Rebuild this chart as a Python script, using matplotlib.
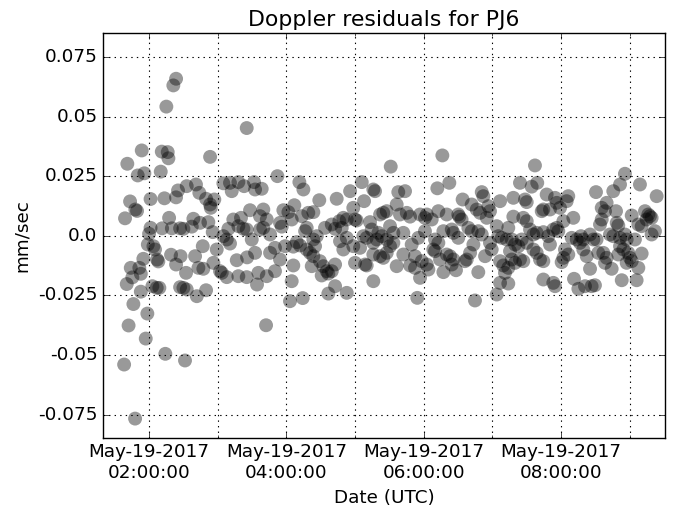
import matplotlib
matplotlib.use("Agg")
import matplotlib.pyplot as plt
import matplotlib.dates as mdates
import matplotlib.ticker as mticker
import pandas as pd
import numpy as np

# time of each sample, minutes after 2017-05-19 00:00 UTC
minutes = [
    98.2, 99.0, 100.5, 101.0, 102.1, 103.4, 104.0, 105.4, 106.3, 107.8,
    108.0, 109.5, 110.1, 111.5, 112.8, 112.8, 113.6, 115.0, 115.9, 117.1,
    118.5, 118.9, 120.0, 121.3, 121.3, 122.9, 123.8, 125.2, 126.7, 127.0,
    128.1, 129.0, 130.2, 131.1, 131.4, 133.4, 134.2, 135.1, 136.3, 136.9,
    137.5, 139.2, 139.9, 141.2, 143.6, 143.6, 143.6, 145.3, 147.1, 147.5,
    147.1, 150.0, 150.0, 151.4, 152.3, 152.9, 152.9, 157.3, 158.7, 160.2,
    161.0, 161.7, 163.1, 163.9, 164.5, 166.9, 167.4, 169.8, 169.8, 171.8,
    173.3, 173.3, 173.9, 176.2, 175.6, 177.0, 179.1, 182.0, 183.5, 184.9,
    184.9, 187.9, 187.9, 189.3, 190.7, 190.7, 192.2, 193.6, 196.6, 198.0,
    198.0, 198.0, 200.3, 202.4, 203.0, 205.3, 205.3, 205.3, 205.6, 208.2,
    209.7, 211.7, 212.6, 212.6, 214.3, 215.5, 216.9, 218.4, 216.9, 219.8,
    219.8, 222.2, 222.8, 222.8, 225.7, 225.7, 230.0, 230.0, 232.1, 234.4,
    235.9, 234.4, 237.3, 238.8, 241.7, 243.1, 244.6, 244.6, 246.0, 246.0,
    246.9, 249.0, 251.3, 251.9, 253.4, 254.2, 254.8, 256.3, 257.7, 257.7,
    259.1, 260.6, 262.1, 263.5, 263.5, 263.5, 265.0, 266.5, 268.7, 269.3,
    270.8, 272.2, 273.7, 275.2, 276.6, 276.6, 279.6, 279.6, 282.5, 282.5,
    282.5, 283.9, 286.2, 286.8, 288.3, 289.7, 289.7, 292.7, 292.7, 292.7,
    295.6, 298.4, 298.4, 299.9, 301.4, 299.9, 304.3, 305.8, 307.2, 307.8,
    308.7, 310.1, 310.1, 313.0, 314.5, 315.9, 315.9, 315.9, 315.9, 317.4,
    318.9, 320.3, 321.8, 321.8, 323.2, 324.6, 324.6, 327.6, 327.6, 327.6,
    330.5, 330.5, 331.1, 333.4, 333.4, 336.3, 336.3, 337.7, 339.2, 342.1,
    342.1, 343.6, 345.1, 348.0, 348.0, 349.4, 352.3, 352.3, 354.3, 355.2,
    356.7, 356.7, 358.2, 361.0, 362.6, 361.0, 362.6, 364.0, 366.9, 368.3,
    369.8, 369.8, 371.8, 372.7, 372.7, 374.2, 376.2, 377.1, 377.1, 380.0,
    380.0, 382.3, 382.9, 384.4, 384.4, 385.8, 385.8, 388.1, 390.1, 391.0,
    390.1, 393.0, 393.9, 395.9, 397.5, 398.9, 400.4, 401.8, 401.8, 403.3,
    404.7, 406.2, 407.6, 407.6, 409.1, 410.6, 410.6, 412.0, 413.5, 415.0,
    416.4, 417.8, 417.8, 419.3, 423.7, 423.7, 425.1, 426.6, 426.6, 426.6,
    428.0, 429.4, 430.9, 432.4, 433.8, 433.8, 433.8, 435.3, 436.8, 436.8,
    438.2, 438.2, 439.7, 439.7, 442.6, 444.0, 444.0, 445.5, 446.9, 446.9,
    448.4, 449.9, 449.9, 449.9, 452.8, 454.2, 455.7, 455.7, 457.1, 458.6,
    458.6, 459.1, 461.5, 463.0, 464.4, 464.4, 464.4, 464.4, 467.3, 468.7,
    470.2, 470.2, 473.1, 473.1, 474.6, 474.6, 476.1, 476.1, 477.5, 479.0,
    480.4, 481.9, 481.9, 483.3, 484.8, 486.2, 486.2, 489.2, 490.6, 491.2,
    493.6, 495.0, 496.4, 497.3, 499.3, 499.3, 500.8, 502.3, 505.2, 505.2,
    506.6, 508.1, 509.5, 510.4, 510.9, 512.4, 513.9, 515.4, 515.4, 516.8,
    518.3, 518.3, 519.7, 519.7, 522.6, 524.1, 525.5, 525.5, 527.9, 528.5,
    529.9, 529.9, 531.4, 531.4, 531.4, 532.9, 534.3, 535.7, 535.7, 537.2,
    537.2, 538.6, 540.1, 541.6, 541.6, 544.4, 545.9, 547.4, 547.4, 548.8,
    550.3, 550.3, 553.2, 554.6, 556.1, 557.5, 559.0, 559.0, 561.9, 563.4,
]

# Doppler residual, mm/sec
residuals = [
    -0.0540, 0.0074, -0.0202, 0.0303, -0.0376, 0.0145, -0.0134, -0.0174, -0.0286, -0.0767,
    0.0111, 0.0105, 0.0254, -0.0134, -0.0159, -0.0234, 0.0359, -0.0096, 0.0263, -0.0431,
    -0.0326, -0.0036, 0.0009, 0.0034, 0.0155, -0.0211, -0.0043, -0.0057, -0.0218, -0.0099,
    -0.0107, -0.0218, 0.0270, 0.0354, 0.0032, 0.0158, -0.0495, 0.0543, 0.0352, 0.0326,
    0.0076, -0.0079, 0.0032, 0.0632, 0.0660, -0.0120, 0.0162, 0.0191, 0.0032, -0.0085,
    -0.0215, -0.0218, 0.0030, -0.0523, -0.0155, 0.0209, -0.0225, 0.0039, 0.0072, -0.0085,
    0.0216, -0.0253, -0.0134, 0.0181, 0.0055, -0.0043, -0.0138, 0.0156, -0.0228, 0.0058,
    0.0332, 0.0132, 0.0118, -0.0113, 0.0016, 0.0153, -0.0057, -0.0148, -0.0155, 0.0221,
    -0.0001, -0.0015, -0.0173, 0.0030, 0.0223, -0.0032, 0.0188, 0.0069, -0.0102, 0.0226,
    0.0041, -0.0169, 0.0076, 0.0030, 0.0209, 0.0453, 0.0027, -0.0173, -0.0090, 0.0108,
    -0.0015, 0.0226, 0.0195, -0.0071, -0.0204, -0.0155, 0.0027, 0.0198, 0.0083, 0.0111,
    0.0034, -0.0375, 0.0069, -0.0169, 0.0006, -0.0071, -0.0050, -0.0148, 0.0251, 0.0055,
    0.0039, -0.0099, 0.0108, -0.0043, 0.0100, -0.0274, 0.0069, -0.0190, -0.0124, -0.0045,
    0.0129, -0.0026, 0.0226, -0.0040, 0.0083, -0.0261, 0.0195, 0.0020, 0.0034, -0.0057,
    0.0097, -0.0071, -0.0127, 0.0100, -0.0015, -0.0085, -0.0043, -0.0001, 0.0150, -0.0106,
    -0.0166, -0.0127, 0.0034, -0.0148, -0.0158, -0.0242, 0.0048, -0.0148, 0.0030, -0.0120,
    -0.0211, 0.0156, 0.0062, -0.0022, 0.0034, 0.0076, -0.0057, 0.0069, -0.0008, -0.0239,
    0.0188, 0.0118, -0.0043, 0.0069, 0.0065, -0.0113, -0.0050, 0.0226, -0.0001, 0.0146,
    -0.0120, -0.0008, -0.0124, 0.0058, 0.0027, 0.0195, -0.0029, -0.0078, -0.0190, 0.0188,
    -0.0015, 0.0013, 0.0090, -0.0085, -0.0001, 0.0097, -0.0092, 0.0104, -0.0015, -0.0071,
    0.0041, -0.0043, 0.0291, 0.0013, -0.0029, 0.0132, -0.0127, 0.0184, 0.0090, 0.0013,
    -0.0078, 0.0188, 0.0097, 0.0081, -0.0124, -0.0036, -0.0085, -0.0134, -0.0260, -0.0008,
    0.0090, -0.0176, -0.0106, 0.0076, 0.0090, 0.0020, -0.0120, -0.0141, 0.0069, -0.0057,
    -0.0064, -0.0015, 0.0200, 0.0104, -0.0029, -0.0099, 0.0338, 0.0020, -0.0152, 0.0090,
    -0.0078, 0.0223, -0.0085, 0.0027, -0.0120, 0.0013, -0.0099, -0.0144, 0.0090, 0.0081,
    -0.0008, 0.0069, 0.0153, -0.0106, -0.0099, 0.0034, -0.0071, 0.0132, 0.0020, -0.0036,
    -0.0271, 0.0111, 0.0020, -0.0152, 0.0097, 0.0184, 0.0006, 0.0167, -0.0085, 0.0076,
    0.0125, 0.0104, -0.0029, -0.0057, 0.0041, -0.0246, -0.0001, 0.0146, -0.0106, -0.0197,
    -0.0008, -0.0124, -0.0155, -0.0015, 0.0034, -0.0134, -0.0200, -0.0064, -0.0015, -0.0099,
    0.0160, 0.0081, -0.0036, -0.0113, -0.0043, 0.0223, -0.0099, -0.0015, 0.0076, -0.0106,
    0.0153, 0.0142, 0.0062, -0.0029, 0.0027, 0.0207, 0.0006, -0.0057, 0.0296, 0.0013,
    -0.0071, 0.0223, -0.0099, 0.0104, 0.0111, 0.0016, -0.0106, -0.0183, 0.0174, -0.0001,
    0.0111, -0.0036, 0.0027, -0.0197, 0.0160, -0.0211, 0.0139, 0.0034, 0.0020, 0.0118,
    -0.0110, 0.0062, -0.0092, -0.0057, 0.0146, 0.0167, -0.0078, -0.0008, 0.0076, -0.0180,
    -0.0015, -0.0222, -0.0029, -0.0001, -0.0015, -0.0057, -0.0211, -0.0085, 0.0006, -0.0138,
    -0.0211, -0.0015, -0.0207, 0.0184, -0.0015, -0.0071, 0.0048, 0.0118, 0.0069, -0.0071,
    0.0104, -0.0113, 0.0139, -0.0092, 0.0006, -0.0138, 0.0188, -0.0001, 0.0104, 0.0055,
    0.0044, -0.0078, 0.0216, -0.0008, -0.0043, -0.0186, -0.0057, 0.0261, 0.0006, -0.0015,
    -0.0113, -0.0071, -0.0092, 0.0086, -0.0106, -0.0015, -0.0186, 0.0048, -0.0134, 0.0216,
    0.0041, -0.0074, 0.0104, 0.0069, 0.0090, 0.0083, 0.0076, 0.0006, 0.0020, 0.0167,
]

ytick_values = [-0.075, -0.05, -0.025, 0.0, 0.025, 0.05, 0.075]
ytick_labels = ["-0.075", "-0.05", "-0.025", "0.0", "0.025", "0.05", "0.075"]

title = "Doppler residuals for PJ6"
xlabel = "Date (UTC)"
ylabel = "mm/sec"

base = pd.Timestamp("2017-05-19 00:00:00")
times = base + pd.to_timedelta(np.array(minutes), unit="min")

plt.style.use("classic")
plt.rcParams["font.family"] = ["DejaVu Sans"]
plt.rcParams["font.size"] = 13.2

fig = plt.figure(figsize=(6.87, 5.08), dpi=100, facecolor="white")
ax = fig.add_axes([0.150, 0.138, 0.818, 0.797])
ax.set_facecolor("white")

ax.scatter(mdates.date2num(times.to_pydatetime()), residuals, s=100,
           c="k", alpha=0.4, edgecolors="none")

ax.set_xlim(mdates.date2num(base + pd.Timedelta(minutes=79.8)),
            mdates.date2num(base + pd.Timedelta(minutes=570.7)))
ax.set_ylim(-0.0848, 0.0852)

ax.xaxis.set_major_locator(mdates.HourLocator(byhour=[2, 4, 6, 8]))
ax.xaxis.set_minor_locator(mdates.HourLocator(interval=1))
ax.xaxis.set_major_formatter(mdates.DateFormatter("%b-%d-%Y\n%H:%M:%S"))
for lab in ax.get_xticklabels():
    lab.set_horizontalalignment("center")

ax.yaxis.set_major_locator(mticker.FixedLocator(ytick_values))
ax.yaxis.set_major_formatter(mticker.FixedFormatter(ytick_labels))

ax.grid(True, which="both", axis="x", linestyle=":", color="k", linewidth=0.8)
ax.grid(True, which="major", axis="y", linestyle=":", color="k", linewidth=0.8)

ax.set_title(title, fontsize=15.8)
ax.set_xlabel(xlabel)
ax.set_ylabel(ylabel)

fig.savefig("out.png", dpi=100, facecolor="white")
